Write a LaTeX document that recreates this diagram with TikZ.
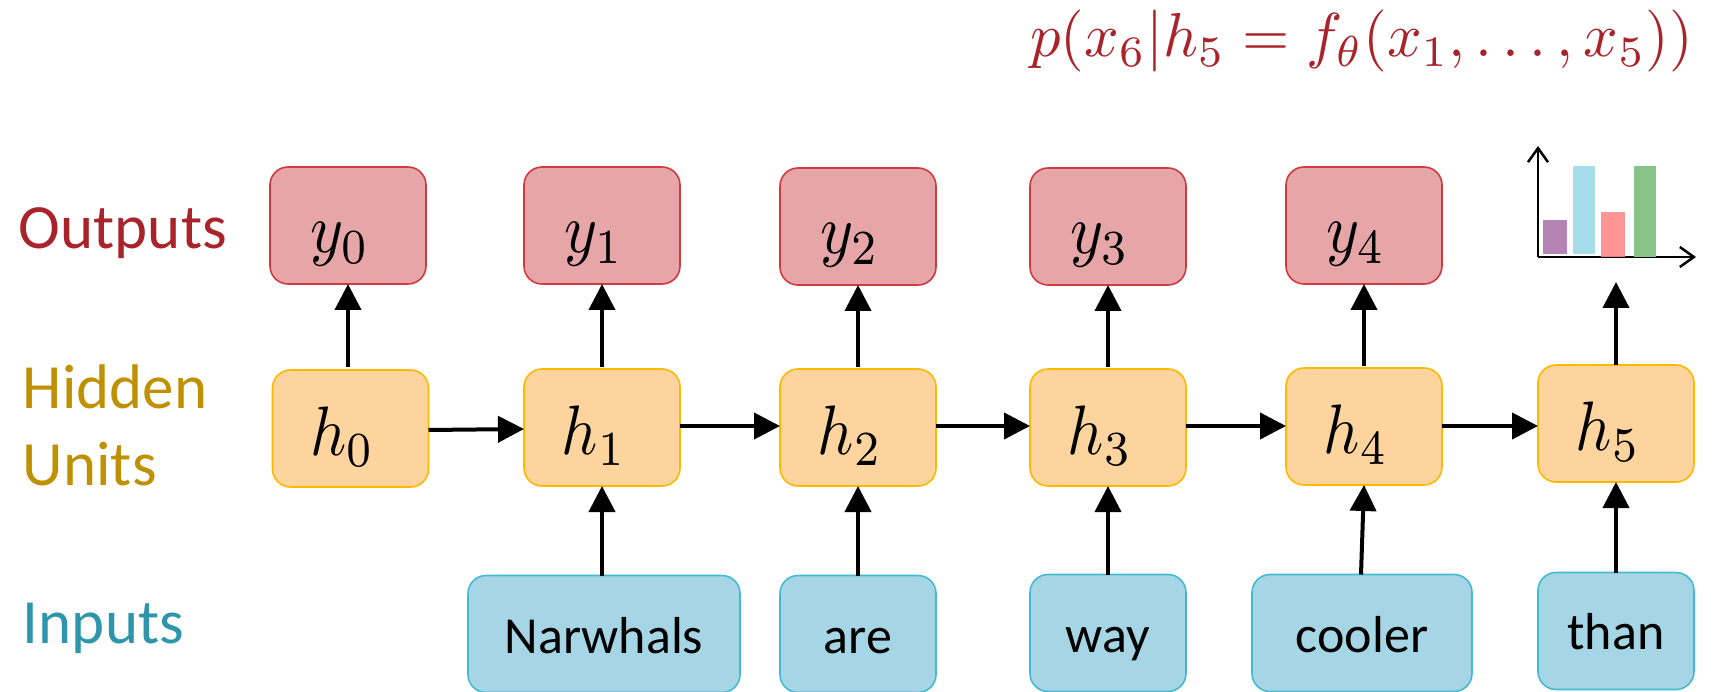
\documentclass[tikz,border=0pt]{standalone}
\usepackage{graphicx}
\usepackage{fontspec}
\newfontfamily\carl{Carlito}
\usetikzlibrary{arrows.meta}
\definecolor{tred}{HTML}{A9242A}
\definecolor{tgold}{HTML}{BF9000}
\definecolor{tteal}{HTML}{2E96AC}
\definecolor{redfill}{HTML}{E6A5A7}
\definecolor{redline}{HTML}{D13A41}
\definecolor{orfill}{HTML}{FDD49E}
\definecolor{orline}{HTML}{FFB800}
\definecolor{blfill}{HTML}{A6D6E5}
\definecolor{blline}{HTML}{45B9D1}
\definecolor{barpurple}{HTML}{B584B5}
\definecolor{barblue}{HTML}{A5DEEA}
\definecolor{barred}{HTML}{FF8888}
\definecolor{bargreen}{HTML}{88C488}
\tikzset{
  boxbase/.style={rectangle,rounded corners=18pt,line width=1.6pt,inner sep=0pt,outer sep=0pt,
    text height=0pt,text depth=0pt,minimum width=156pt,minimum height=117pt},
  outbox/.style={boxbase,draw=redline,fill=redfill},
  hidbox/.style={boxbase,draw=orline,fill=orfill},
  inbox/.style={boxbase,draw=blline,fill=blfill},
  wordtxt/.style={font=\carl\fontsize{52}{56}\selectfont},
  sidelabel/.style={font=\carl\fontsize{63}{76}\selectfont,inner sep=0pt,outer sep=0pt},
  arr/.style={line width=4pt,-{Triangle[length=26pt,width=26pt]}},
  axisline/.style={line width=2.5pt,-{Straight Barb[length=14pt,width=20pt,line width=2.5pt]}},
  bar/.style={draw=none,inner sep=0pt,outer sep=0pt,rectangle,anchor=south west},
}
\newcommand{\mlab}[1]{\hspace*{-16pt}\raisebox{-27pt}{\scalebox{6.3}[7]{$#1$}}}
\newcommand{\wlab}[2]{\raisebox{-#1}{#2}}
\begin{document}
\begin{tikzpicture}[x=1pt,y=-1pt]
\useasboundingbox (0,0) rectangle (1722,692);

% side labels
\node[sidelabel,text=tred,anchor=base west] (lo) at (19,249) {Outputs};
\node[sidelabel,text=tgold,anchor=base west] (lh) at (23,409) {Hidden};
\node[sidelabel,text=tgold,anchor=base west] (lu) at (23,485) {Units};
\node[sidelabel,text=tteal,anchor=base west] (li) at (23,643) {Inputs};

% formula
\node[anchor=base west,inner sep=0pt,text=tred] (eq) at (1030,57)
  {\scalebox{6.07}[6.2]{$p(x_6|h_5=f_\theta(x_1,\dots,x_5))$}};

% outputs
\node[outbox] (y0) at (348,225.5) {\mlab{y_0}};
\node[outbox] (y1) at (602,225.5) {\mlab{y_1}};
\node[outbox] (y2) at (858,226.5) {\mlab{y_2}};
\node[outbox] (y3) at (1108,226.5) {\mlab{y_3}};
\node[outbox] (y4) at (1364,225.5) {\mlab{y_4}};

% hidden
\node[hidbox] (h0) at (350.5,428.5) {\mlab{h_0}};
\node[hidbox] (h1) at (602,427.5) {\mlab{h_1}};
\node[hidbox] (h2) at (858,427.5) {\mlab{h_2}};
\node[hidbox] (h3) at (1108,427.5) {\mlab{h_3}};
\node[hidbox] (h4) at (1364,426.5) {\mlab{h_4}};
\node[hidbox] (h5) at (1616,423.5) {\mlab{h_5}};

% inputs
\node[inbox,wordtxt,minimum width=272pt] (i1) at (604,634) {\wlab{19pt}{Narwhals}};
\node[inbox,wordtxt] (i2) at (858,634) {\wlab{19pt}{are}};
\node[inbox,wordtxt] (i3) at (1108,633) {\wlab{19pt}{way}};
\node[inbox,wordtxt,minimum width=220pt] (i4) at (1362,633) {\wlab{19pt}{cooler}};
\node[inbox,wordtxt] (i5) at (1616,631) {\wlab{18pt}{than}};

% chart
\coordinate (org) at (1538,257);
\coordinate (ytop) at (1538,146);
\coordinate (xend) at (1696,257);
\coordinate (chartbase) at (1616,282);
\draw[axisline] (org) -- (ytop);
\draw[axisline] (org) -- (xend);
\node[bar,fill=barpurple,minimum width=24pt,minimum height=34pt] (b1) at (1543,254) {};
\node[bar,fill=barblue,minimum width=22pt,minimum height=88pt] (b2) at (1573,254) {};
\node[bar,fill=barred,fill opacity=.9,minimum width=24pt,minimum height=45pt] (b3) at (1601,257) {};
\node[bar,fill=bargreen,minimum width=21.5pt,minimum height=91pt] (b4) at (1634,257) {};

% connectors
\draw[arr,shorten <=3pt] ([xshift=-2.5pt]h0.north) -- (y0.south);
\draw[arr,shorten <=2pt] (h1.north) -- (y1.south);
\draw[arr,shorten <=2pt] (h2.north) -- (y2.south);
\draw[arr,shorten <=2pt] (h3.north) -- (y3.south);
\draw[arr,shorten <=2pt] (h4.north) -- (y4.south);
\draw[arr] (h5.north) -- (chartbase);

\draw[arr] ([yshift=-1.5pt]h0.east) -- ([yshift=-1.5pt]h1.west);
\draw[arr] ([yshift=1.5pt]h1.east) -- ([yshift=1.5pt]h2.west);
\draw[arr] ([yshift=1.5pt]h2.east) -- ([yshift=1.5pt]h3.west);
\draw[arr] ([yshift=1.5pt]h3.east) -- ([yshift=.5pt]h4.west);
\draw[arr] ([yshift=.5pt]h4.east) -- ([yshift=-2.5pt]h5.west);

\draw[arr] ([xshift=-2pt]i1.north) -- (h1.south);
\draw[arr] (i2.north) -- (h2.south);
\draw[arr] (i3.north) -- (h3.south);
\draw[arr] ([xshift=-1pt]i4.north) -- (h4.south);
\draw[arr] (i5.north) -- (h5.south);
\end{tikzpicture}
\end{document}
